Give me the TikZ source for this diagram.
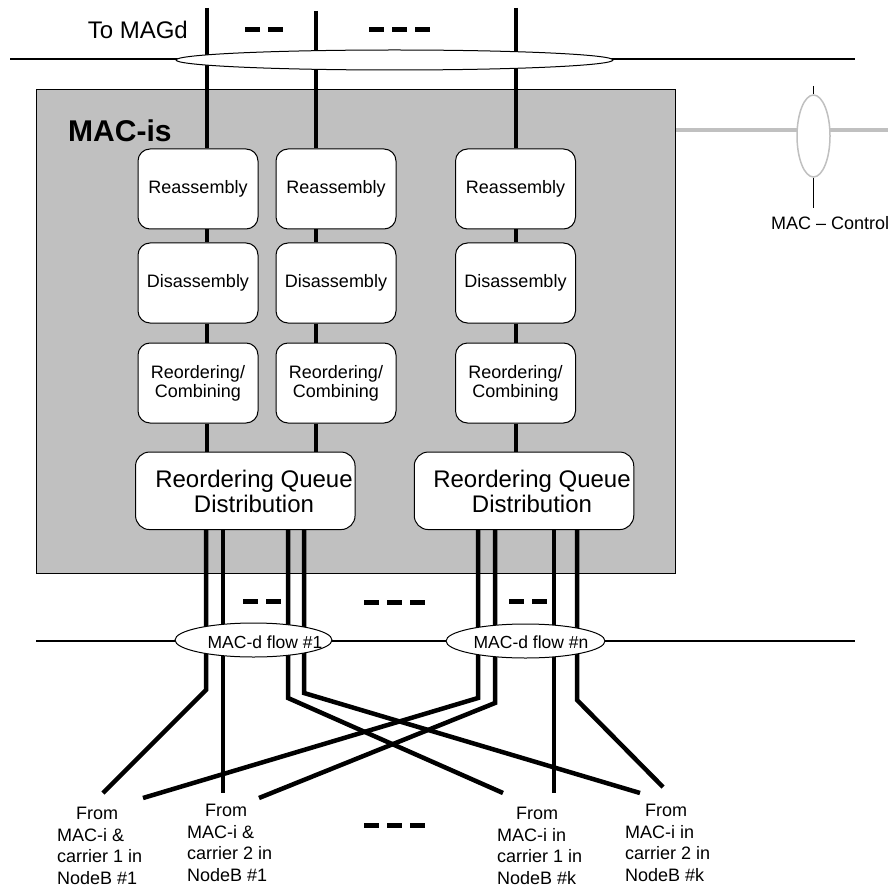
\documentclass[tikz,border=0pt]{standalone}
\usepackage{fontspec}
\setmainfont{Liberation Sans}
\usetikzlibrary{shapes.geometric}
\definecolor{macgray}{HTML}{C0C0C0}
\begin{document}
\begin{tikzpicture}[x=1pt,y=-1pt,
  conn/.style={line width=4.5pt},
  thinline/.style={line width=1.2pt},
  fbox/.style={draw, line width=1pt, fill=white, rounded corners=12pt, minimum width=120pt, minimum height=80pt, inner sep=0pt, font=\fontsize{18}{19}\selectfont, align=center},
  qbox/.style={draw, line width=1pt, fill=white, rounded corners=14pt, minimum width=219.5pt, minimum height=77.5pt, inner sep=0pt},
  qtext/.style={font=\fontsize{24}{25}\selectfont, align=center, inner sep=0pt},
  flowell/.style={ellipse, draw, line width=1pt, fill=white, inner sep=0pt, minimum height=34pt},
  flowtext/.style={font=\fontsize{17.5}{18}\selectfont, anchor=base, inner sep=0pt},
  fromlbl/.style={font=\fontsize{18}{21.5}\selectfont, align=left, inner sep=0pt, anchor=north west},
  dots/.style={line width=5pt, dash pattern=on 15pt off 8pt},
]
\useasboundingbox (0,0) rectangle (888,890);

% MAC-is frame
\node[draw, line width=1pt, fill=macgray, minimum width=639pt, minimum height=484pt, anchor=north west, inner sep=0pt] (macis) at (36,89) {};

% MAC control
\coordinate (ctrlend) at (888,130);
\draw[line width=4pt, macgray] (macis.east |- ctrlend) -- (ctrlend);
\node[ellipse, draw=macgray, line width=1.5pt, fill=white, minimum width=33pt, minimum height=82pt, inner sep=0pt] (ctrl) at (813.5,136) {};
\coordinate (ctrltop) at (813.5,86);
\coordinate (ctrlbot) at (813.5,208);
\draw[line width=1pt] (ctrltop) -- (ctrl.north);
\draw[line width=1pt] (ctrl.south) -- (ctrlbot);
\node[font=\fontsize{18}{19}\selectfont, anchor=base west, inner sep=0pt] (ctrllbl) at (771,230) {MAC – Control};

% top horizontal line
\coordinate (tl) at (10,59);
\coordinate (tr) at (855,59);
\draw[thinline] (tl) -- (tr);

% function boxes
\node[fbox] (reas1) at (198,189) {Reassembly};
\node[fbox] (reas2) at (336,189) {Reassembly};
\node[fbox] (reas3) at (515.5,189) {Reassembly};
\node[fbox] (dis1) at (198,283) {Disassembly};
\node[fbox] (dis2) at (336,283) {Disassembly};
\node[fbox] (dis3) at (515.5,283) {Disassembly};
\node[fbox] (reo1) at (198,383) {Reordering/\\Combining};
\node[fbox] (reo2) at (336,383) {Reordering/\\Combining};
\node[fbox] (reo3) at (515.5,383) {Reordering/\\Combining};
\node[qbox] (rqd1) at (245.3,490.8) {};
\node[qbox] (rqd2) at (524,490.8) {};
\node[qtext] (rqd1t) at (254,491) {Reordering Queue\\Distribution};
\node[qtext] (rqd2t) at (532,491) {Reordering Queue\\Distribution};

% column lines
\coordinate (c1) at (207,8);
\coordinate (c2) at (316,11);
\coordinate (c3) at (516,8);
\foreach \c/\i/\q in {c1/1/rqd1, c2/2/rqd1, c3/3/rqd2} {
  \draw[conn] (\c) -- (\c |- reas\i.north);
  \draw[conn] (reas\i.south -| \c) -- (dis\i.north -| \c);
  \draw[conn] (dis\i.south -| \c) -- (reo\i.north -| \c);
  \draw[conn] (reo\i.south -| \c) -- (\q.north -| \c);
}

% top ellipse
\node[ellipse, draw, line width=1pt, fill=white, minimum width=437pt, minimum height=20pt, inner sep=0pt] (magd) at (394.5,60) {};
\node[font=\fontsize{24}{25}\selectfont, anchor=base east, inner sep=0pt] (magdlbl) at (188,39) {To MAGd};
\node[font=\bfseries\fontsize{30}{31}\selectfont, anchor=base west, inner sep=0pt] (macislbl) at (68,142) {MAC-is};

% dashes
\draw[dots] (245,30) -- (283,30);
\draw[dots] (369,30) -- (430,30);
\draw[dots] (243,601) -- (281,601);
\draw[dots] (364,602) -- (425,602);
\draw[dots] (509,601) -- (547,601);
\draw[dots] (364,825) -- (425,825);

% bottom horizontal line
\coordinate (bl) at (36,641);
\coordinate (br) at (855,641);
\draw[thinline] (bl) -- (br);

% flows to sources
\coordinate (b1) at (206,690); \coordinate (e1) at (103,793);
\coordinate (e2) at (223,793);
\coordinate (b3) at (288,698); \coordinate (e3) at (503,793);
\coordinate (b4) at (304,693); \coordinate (e4) at (640,793);
\coordinate (b5) at (478,698); \coordinate (e5) at (143,798);
\coordinate (b6) at (495,703); \coordinate (e6) at (259,798);
\coordinate (e7) at (554,793);
\coordinate (b8) at (577,700); \coordinate (e8) at (663,787);
\draw[conn] (rqd1.south -| b1) -- (b1) -- (e1);
\draw[conn] (rqd1.south -| e2) -- (e2);
\draw[conn] (rqd1.south -| b3) -- (b3) -- (e3);
\draw[conn] (rqd1.south -| b4) -- (b4) -- (e4);
\draw[conn] (rqd2.south -| b5) -- (b5) -- (e5);
\draw[conn] (rqd2.south -| b6) -- (b6) -- (e6);
\draw[conn] (rqd2.south -| e7) -- (e7);
\draw[conn] (rqd2.south -| b8) -- (b8) -- (e8);

% MAC-d flow ellipses
\node[flowell, minimum width=157pt] (f1) at (253.5,640) {};
\node[flowell, minimum width=159pt] (fn) at (525.5,641) {};
\node[flowtext] (f1t) at (265,648) {MAC-d flow \#1};
\node[flowtext] (fnt) at (531,648) {MAC-d flow \#n};

% source labels
\node[fromlbl] (src1) at (57,807) {\hspace*{19pt}From\\MAC-i \&\\carrier 1 in\\NodeB \#1};
\node[fromlbl] (src2) at (187,804) {\hspace*{18pt}From\\MAC-i \&\\carrier 2 in\\NodeB \#1};
\node[fromlbl] (src3) at (497,807) {\hspace*{19pt}From\\MAC-i in\\carrier 1 in\\NodeB \#k};
\node[fromlbl] (src4) at (625,804) {\hspace*{20pt}From\\MAC-i in\\carrier 2 in\\NodeB \#k};
\end{tikzpicture}
\end{document}
